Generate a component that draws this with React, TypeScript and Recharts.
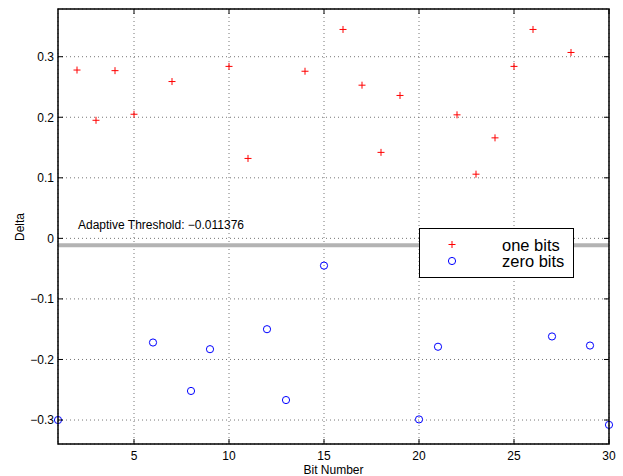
import React from "react";
import {
  ScatterChart,
  Scatter,
  XAxis,
  YAxis,
  CartesianGrid,
  ReferenceLine,
} from "recharts";

const bitsOne = [2, 3, 4, 5, 7, 10, 11, 14, 16, 17, 18, 19, 22, 23, 24, 25, 26, 28];
const deltaOne = [0.278, 0.195, 0.277, 0.205, 0.259, 0.284, 0.132, 0.276, 0.345, 0.253, 0.142, 0.236, 0.204, 0.106, 0.166, 0.284, 0.345, 0.307];
const bitsZero = [1, 6, 8, 9, 12, 13, 15, 20, 21, 27, 29, 30];
const deltaZero = [-0.3, -0.172, -0.252, -0.183, -0.15, -0.267, -0.045, -0.299, -0.179, -0.162, -0.177, -0.308];
const threshold = -0.011376;
const xTicks = [5, 10, 15, 20, 25, 30];
const yTicks = [-0.3, -0.2, -0.1, 0, 0.1, 0.2, 0.3];
const xDomain = [1, 30];
const yDomain = [-0.3396, 0.3788];
const legendNames = ["one bits", "zero bits"];

const oneData = bitsOne.map((b, i) => ({ bit: b, delta: deltaOne[i] }));
const zeroData = bitsZero.map((b, i) => ({ bit: b, delta: deltaZero[i] }));

const W = 623;
const H = 476;
const PL = 58;
const PT = 9;
const PR = 609;
const PB = 444;
const FONT = "'Liberation Sans', Arial, Helvetica, sans-serif";

const fmt = (v: number) => {
  const s = Math.abs(v) < 1e-9 ? "0" : Math.abs(v).toString();
  return v < -1e-9 ? "\u2212" + s : s;
};

const XTick = (props: any) => {
  const { x, payload } = props;
  return (
    <g>
      <line x1={x} x2={x} y1={PB} y2={PB - 5} stroke="#000" strokeWidth={1} />
      <line x1={x} x2={x} y1={PT} y2={PT + 5} stroke="#000" strokeWidth={1} />
      <text x={x} y={PB + 15.5} textAnchor="middle" fontSize={12} fontFamily={FONT} fill="#000">
        {fmt(payload.value)}
      </text>
    </g>
  );
};

const YTick = (props: any) => {
  const { y, payload } = props;
  return (
    <g>
      <line x1={PL} x2={PL + 5} y1={y} y2={y} stroke="#000" strokeWidth={1} />
      <line x1={PR} x2={PR - 5} y1={y} y2={y} stroke="#000" strokeWidth={1} />
      <text x={PL - 4} y={y + 4.3} textAnchor="end" fontSize={12} fontFamily={FONT} fill="#000">
        {fmt(payload.value)}
      </text>
    </g>
  );
};

const Plus = (props: any) => {
  const { cx, cy } = props;
  return (
    <path
      d={`M${cx - 3.5},${cy}H${cx + 3.5}M${cx},${cy - 3.5}V${cy + 3.5}`}
      stroke="#ff0000"
      strokeWidth={1}
      fill="none"
    />
  );
};

const Circ = (props: any) => {
  const { cx, cy } = props;
  return <circle cx={cx} cy={cy} r={3.6} stroke="#0000ff" strokeWidth={1} fill="none" />;
};

export default function App() {
  return (
    <div style={{ position: "absolute", left: 0, top: 0, width: W, height: H, background: "#fff" }}>
      <ScatterChart
        width={W}
        height={H}
        margin={{ top: PT, right: W - PR, bottom: 0, left: 0 }}
        style={{ fontFamily: FONT }}
      >
        <CartesianGrid stroke="#777" strokeDasharray="1 3" strokeWidth={1} />
        <XAxis
          type="number"
          dataKey="bit"
          domain={xDomain}
          ticks={xTicks}
          height={H - PB}
          axisLine={false}
          tickLine={false}
          tick={<XTick />}
          interval={0}
        />
        <YAxis
          type="number"
          dataKey="delta"
          domain={yDomain}
          ticks={yTicks}
          width={PL}
          axisLine={false}
          tickLine={false}
          tick={<YTick />}
          interval={0}
        />
        <ReferenceLine
          y={threshold}
          stroke="#b3b3b3"
          strokeWidth={4}
          label={(p: any) => (
            <text
              x={p.viewBox.x + 20}
              y={p.viewBox.y - 16.5}
              fontSize={12}
              fontFamily={FONT}
              fill="#000"
            >
              {"Adaptive Threshold: \u22120.011376"}
            </text>
          )}
        />
        <Scatter name={legendNames[0]} data={oneData} shape={<Plus />} isAnimationActive={false} />
        <Scatter name={legendNames[1]} data={zeroData} shape={<Circ />} isAnimationActive={false} />
      </ScatterChart>
      <svg
        width={W}
        height={H}
        style={{ position: "absolute", left: 0, top: 0, pointerEvents: "none" }}
      >
        <rect x={PL} y={PT} width={PR - PL} height={PB - PT} fill="none" stroke="#000" strokeWidth={1.5} />
        <text x={PL + (PR - PL) / 2} y={474} textAnchor="middle" fontSize={12} fontFamily={FONT} fill="#000">
          Bit Number
        </text>
        <text
          x={24}
          y={227}
          textAnchor="middle"
          fontSize={12}
          fontFamily={FONT}
          fill="#000"
          transform="rotate(-90 24 227)"
        >
          Delta
        </text>
        <g transform="translate(419.5,228.5)">
          <rect x={0} y={0} width={154} height={49} fill="#fff" stroke="#000" strokeWidth={1} />
          <path d="M29,16H36M32.5,12.5V19.5" stroke="#ff0000" strokeWidth={1} fill="none" />
          <circle cx={32.5} cy={32.5} r={3.6} stroke="#0000ff" strokeWidth={1} fill="none" />
          <text x={82.5} y={22} fontSize={16.5} fontFamily={FONT} fill="#000">{legendNames[0]}</text>
          <text x={82.5} y={38.5} fontSize={16.5} fontFamily={FONT} fill="#000">{legendNames[1]}</text>
        </g>
      </svg>
    </div>
  );
}
